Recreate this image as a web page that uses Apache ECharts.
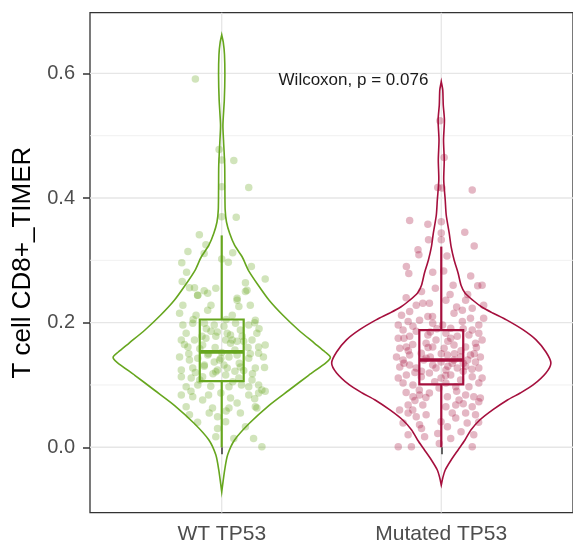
<!DOCTYPE html>
<html>
<head>
<meta charset="utf-8">
<script src="https://cdn.jsdelivr.net/npm/echarts@6/dist/echarts.min.js"></script>
<style>
  html, body { margin: 0; padding: 0; background: #ffffff; }
  #chart { width: 573px; height: 548px; }
</style>
</head>
<body>
<div id="chart"></div>
<script>
// ---- data ----
const groups = ['WT TP53', 'Mutated TP53'];
const yTicks = [0, 0.2, 0.4, 0.6];
const yMinorGrid = [0.1, 0.3, 0.5];
const pValueLabel = 'Wilcoxon, p = 0.076';
const pValuePos = [1.6, 0.589];

// violin outlines: value levels (top to bottom) and half-widths in group units
const wtViolinY = [0.6616, 0.650, 0.630, 0.597, 0.557, 0.517, 0.493, 0.453, 0.413, 0.381, 0.3615, 0.3434, 0.3242, 0.3049, 0.2840, 0.2600, 0.2359, 0.2118, 0.1878, 0.1669, 0.1525, 0.1445, 0.1364, 0.1155, 0.0915, 0.0674, 0.0385, 0.0117, -0.0122, -0.0363, -0.0716];
const wtViolinHalfWidth = [0, 0.007, 0.0126, 0.0144, 0.0117, 0.0054, 0.0081, 0.0135, 0.0144, 0.0157, 0.0216, 0.036, 0.0585, 0.094, 0.1215, 0.1664, 0.2159, 0.2789, 0.3509, 0.4229, 0.4723, 0.4948, 0.4768, 0.3959, 0.3059, 0.2159, 0.1260, 0.0585, 0.0270, 0.0135, 0];
const mutViolinY = [0.5866, 0.5734, 0.5493, 0.5252, 0.4929, 0.4610, 0.4289, 0.3968, 0.3727, 0.3439, 0.3214, 0.3005, 0.2797, 0.2600, 0.2476, 0.2359, 0.2251, 0.2155, 0.2044, 0.1883, 0.1723, 0.1529, 0.1353, 0.1193, 0.1000, 0.0871, 0.0759, 0.0599, 0.0437, 0.0277, 0.0117, -0.0043, -0.0204, -0.0365, -0.0493, -0.0605];
const mutViolinHalfWidth = [0, 0.0067, 0.009, 0.0144, 0.0103, 0.0135, 0.0112, 0.018, 0.0225, 0.036, 0.045, 0.0585, 0.0765, 0.09, 0.108, 0.144, 0.1844, 0.2339, 0.2969, 0.3734, 0.4318, 0.4768, 0.4993, 0.4768, 0.4183, 0.3599, 0.3014, 0.2339, 0.1754, 0.1350, 0.1080, 0.0765, 0.045, 0.018, 0.0067, 0];

// box statistics: [lower whisker, Q1, median, Q3, upper whisker]
const wtBox = [0.0, 0.106, 0.153, 0.205, 0.340];
const mutBox = [0.0, 0.101, 0.140, 0.188, 0.322];

// observations: [jitter offset, value]
const wtPoints = [
  [-0.12,0.591],[-0.012,0.478],[0.0,0.461],[0.055,0.460],[0.0,0.418],[0.123,0.417],[0.0,0.370],[0.066,0.369],
  [-0.102,0.341],[-0.072,0.325],[-0.154,0.314],[-0.08,0.311],[-0.182,0.296],[0.0,0.302],[0.03,0.297],[0.05,0.312],
  [0.135,0.290],[-0.16,0.281],[0.198,0.270],[-0.18,0.266],[-0.147,0.256],[-0.124,0.256],[-0.08,0.251],[-0.027,0.255],
  [0.108,0.264],[0.115,0.252],[-0.11,0.244],[0.07,0.239],
  [-0.109,0.244],[-0.064,0.247],[0.070,0.236],[0.108,0.250],[-0.177,0.228],[-0.049,0.228],[0.078,0.226],[0.130,0.228],
  [-0.192,0.215],[-0.117,0.212],[-0.064,0.220],[0.048,0.212],[0.153,0.204],
  [-0.177,0.196],[-0.132,0.199],[-0.079,0.199],[-0.034,0.196],[0.010,0.194],[0.063,0.199],[0.123,0.196],[0.150,0.200],
  [-0.162,0.183],[-0.049,0.186],[0.025,0.183],[0.085,0.188],[0.160,0.183],
  [-0.184,0.172],[-0.124,0.172],[-0.072,0.175],[-0.027,0.178],[0.018,0.172],[0.048,0.172],[0.093,0.178],[0.138,0.172],
  [0.198,0.164],[-0.154,0.161],[-0.087,0.164],[0.040,0.167],[0.168,0.161],
  [-0.192,0.145],[-0.147,0.140],[-0.109,0.143],[-0.064,0.148],[-0.034,0.137],[-0.004,0.143],[0.033,0.145],[0.070,0.148],
  [0.123,0.143],[0.168,0.151],[0.190,0.145],[-0.184,0.124],[-0.132,0.127],[-0.079,0.132],[-0.019,0.124],[0.025,0.127],
  [0.085,0.129],[0.153,0.127],[0.195,0.128],
  [-0.184,0.113],[-0.139,0.111],[-0.087,0.113],[-0.027,0.121],[0.018,0.116],[0.078,0.111],[0.138,0.108],[0.168,0.100],
  [-0.162,0.097],[-0.109,0.100],[0.033,0.097],[0.123,0.097],[0.183,0.092],
  [-0.184,0.084],[-0.132,0.081],[-0.087,0.076],[-0.004,0.087],[0.040,0.079],[0.070,0.071],[0.123,0.084],[0.168,0.087],
  [0.198,0.090],[-0.162,0.065],[-0.042,0.063],[0.033,0.063],[0.153,0.065],
  [-0.147,0.052],[-0.057,0.055],[-0.019,0.049],[0.085,0.055],[0.160,0.063],[-0.019,0.030],[0.018,0.041],[0.108,0.033],
  [-0.027,0.017],[0.055,0.014],[0.145,0.014],[0.183,0.001],
  [-0.07,0.190],[-0.02,0.185],[0.04,0.180],[0.10,0.170],[-0.10,0.158],[-0.03,0.160],[0.06,0.156],[0.12,0.160],
  [-0.06,0.150],[0.00,0.152],[0.08,0.135],[-0.08,0.130],[-0.04,0.118],[0.05,0.105],[0.10,0.123],[-0.12,0.120],
  [0.01,0.132],[-0.15,0.150],[0.14,0.118],[-0.05,0.098],
  [-0.13,0.205],[0.02,0.205],[0.17,0.190],[-0.09,0.178],[0.07,0.170],[-0.17,0.165],[0.13,0.150],[-0.01,0.140],
  [0.06,0.122],[-0.10,0.108],[0.09,0.100],[-0.14,0.090],[0.15,0.078],[-0.06,0.084],[0.02,0.058],[-0.11,0.040]
];
const mutPoints = [
  [-0.006,0.524],[0.013,0.465],[-0.016,0.417],[0.003,0.416],[0.141,0.413],[-0.144,0.364],[-0.061,0.358],[0.0,0.362],
  [0.0,0.344],[0.107,0.345],[-0.058,0.333],[0.0,0.333],[0.150,0.323],[-0.106,0.317],[-0.102,0.309],[0.026,0.307],
  [-0.159,0.290],[-0.148,0.279],[-0.039,0.281],[0.011,0.283],[0.134,0.275],[-0.027,0.255],[0.054,0.260],[0.166,0.259],
  [0.186,0.260],
  [-0.114,0.228],[-0.084,0.231],[-0.054,0.231],[0.021,0.236],[0.111,0.236],[0.193,0.228],[-0.181,0.212],[-0.144,0.218],
  [0.096,0.220],[0.141,0.223],
  [-0.196,0.196],[-0.151,0.202],[-0.099,0.204],[-0.061,0.210],[-0.039,0.199],[0.058,0.215],[0.096,0.202],[0.133,0.207],
  [0.171,0.196],[0.193,0.207],[-0.174,0.188],[-0.129,0.194],[0.006,0.196],[0.043,0.191],[0.141,0.188],
  [-0.196,0.175],[-0.144,0.178],[-0.114,0.186],[-0.061,0.180],[-0.024,0.172],[0.021,0.183],[0.043,0.175],[0.073,0.178],
  [0.126,0.180],[0.171,0.183],[0.186,0.172],[-0.189,0.159],[-0.159,0.161],[-0.069,0.167],[-0.039,0.161],[0.013,0.159],
  [0.058,0.164],[0.111,0.161],[0.156,0.167],
  [-0.204,0.145],[-0.174,0.140],[-0.144,0.148],[-0.091,0.151],[-0.069,0.143],[-0.039,0.132],[-0.001,0.137],[0.028,0.148],
  [0.058,0.140],[0.088,0.145],[0.133,0.148],[0.156,0.137],[0.178,0.145],[-0.189,0.129],[-0.144,0.132],[-0.114,0.127],
  [-0.024,0.127],[0.021,0.124],[0.073,0.127],[0.111,0.130],[0.171,0.127],
  [-0.196,0.111],[-0.159,0.116],[-0.091,0.113],[-0.054,0.119],[-0.001,0.111],[0.043,0.116],[0.088,0.108],[0.141,0.113],
  [0.186,0.111],[-0.174,0.103],[-0.129,0.100],[0.021,0.103],[0.066,0.097],[0.126,0.097],[0.171,0.103],
  [-0.129,0.081],[-0.099,0.084],[-0.054,0.087],[0.028,0.081],[0.081,0.076],[0.111,0.084],[0.148,0.081],[0.178,0.079],
  [-0.151,0.068],[-0.084,0.068],[0.021,0.065],[0.066,0.068],[0.141,0.065],[0.171,0.073],
  [-0.151,0.055],[-0.114,0.049],[-0.069,0.052],[0.066,0.047],[0.111,0.055],[0.156,0.052],[-0.174,0.039],[-0.099,0.036],
  [-0.001,0.041],[0.028,0.033],[0.118,0.039],
  [-0.151,0.020],[-0.076,0.017],[-0.016,0.022],[0.043,0.014],[0.148,0.020],[-0.196,0.001],[-0.136,0.001],[-0.009,0.006],
  [0.141,0.001],
  [-0.05,0.185],[0.03,0.170],[0.09,0.155],[-0.08,0.140],[0.00,0.150],[0.05,0.135],[-0.12,0.120],[0.10,0.122],
  [-0.03,0.105],[0.07,0.090],[-0.10,0.092],[0.12,0.140],[-0.06,0.160],[0.02,0.115],[-0.15,0.155],[0.15,0.150],
  [0.04,0.245],[-0.09,0.250],[0.12,0.245],[-0.16,0.240],
  [-0.17,0.175],[0.10,0.190],[-0.02,0.190],[0.06,0.150],[-0.13,0.165],[0.16,0.160],[-0.05,0.145],[0.03,0.130],
  [-0.17,0.135],[0.10,0.135],[-0.09,0.122],[0.14,0.125],[-0.01,0.095],[-0.16,0.088],[-0.12,0.075],[-0.07,0.080],
  [0.10,0.070],[-0.19,0.060],[-0.13,0.060],[0.05,0.055],[-0.09,0.030],[0.09,0.025],[0.17,0.040],[-0.04,0.210],
  [0.07,0.225]
];

// ---- styling ----
const FONT = "'Liberation Sans', Arial, sans-serif";
const groupColors = ['#66A61E', '#A50F3D'];
const pointOpacity = 0.3;
const boxWidth = 0.2;

const chart = echarts.init(document.getElementById('chart'), null, { renderer: 'canvas' });

function gridLineSeries() {
  const rows = [];
  yTicks.forEach(v => rows.push(['h', v, 'major']));
  yMinorGrid.forEach(v => rows.push(['h', v, 'minor']));
  groups.forEach((g, i) => rows.push(['v', i + 1, 'major']));
  return {
    type: 'custom', silent: true, z: 0, clip: true,
    data: rows.map((r, i) => [i]),
    renderItem: (params, api) => {
      const r = rows[params.dataIndex];
      const cs = params.coordSys;
      const style = { stroke: r[2] === 'major' ? '#E6E6E6' : '#EEEEEE', lineWidth: r[2] === 'major' ? 1.3 : 0.9 };
      if (r[0] === 'h') {
        const y = api.coord([1, r[1]])[1];
        return { type: 'line', shape: { x1: cs.x, y1: y, x2: cs.x + cs.width, y2: y }, style };
      }
      const x = api.coord([r[1], 0])[0];
      return { type: 'line', shape: { x1: x, y1: cs.y, x2: x, y2: cs.y + cs.height }, style };
    },
    encode: { x: -1, y: -1 }
  };
}

function violinSeries(gi, ys, hws) {
  const cx = gi + 1;
  return {
    type: 'custom', silent: true, z: 2,
    data: [[cx, ys[0]]],
    renderItem: (params, api) => {
      const pts = [];
      for (let i = 0; i < ys.length; i++) pts.push(api.coord([cx + hws[i], ys[i]]));
      for (let i = ys.length - 1; i >= 0; i--) pts.push(api.coord([cx - hws[i], ys[i]]));
      return {
        type: 'polygon',
        shape: { points: pts, smooth: 0.25 },
        style: { fill: 'none', stroke: groupColors[gi], lineWidth: 1.6 }
      };
    },
    encode: { x: 0, y: 1 }
  };
}

function pointSeries(gi, pts) {
  return {
    type: 'scatter', silent: true, z: 3,
    symbol: 'circle', symbolSize: 7.5,
    itemStyle: { color: groupColors[gi], opacity: pointOpacity },
    data: pts.map(p => [gi + 1 + p[0], p[1]])
  };
}

function boxSeries(gi, s) {
  const cx = gi + 1;
  return {
    type: 'custom', silent: true, z: 4,
    data: [[cx, s[0], s[1], s[2], s[3], s[4]]],
    renderItem: (params, api) => {
      const c = groupColors[gi];
      const lo = api.coord([cx, s[0]]);
      const q1 = api.coord([cx - boxWidth / 2, s[1]]);
      const q3 = api.coord([cx + boxWidth / 2, s[3]]);
      const hi = api.coord([cx, s[4]]);
      const medL = api.coord([cx - boxWidth / 2, s[2]]);
      const medR = api.coord([cx + boxWidth / 2, s[2]]);
      const lw = 2.2;
      return {
        type: 'group',
        children: [
          { type: 'line', shape: { x1: hi[0], y1: hi[1], x2: hi[0], y2: q3[1] }, style: { stroke: c, lineWidth: lw } },
          { type: 'line', shape: { x1: lo[0], y1: lo[1], x2: lo[0], y2: q1[1] }, style: { stroke: c, lineWidth: lw } },
          { type: 'rect', shape: { x: q1[0], y: q3[1], width: q3[0] - q1[0], height: q1[1] - q3[1] },
            style: { fill: 'none', stroke: c, lineWidth: lw } },
          { type: 'line', shape: { x1: medL[0], y1: medL[1], x2: medR[0], y2: medR[1] }, style: { stroke: c, lineWidth: 3.6 } }
        ]
      };
    },
    encode: { x: 0, y: 1 }
  };
}

const labelSeries = {
  type: 'custom', silent: true, z: 5, clip: false,
  data: [pValuePos],
  renderItem: (params, api) => {
    const p = api.coord([api.value(0), api.value(1)]);
    return {
      type: 'text', x: p[0], y: p[1],
      style: { text: pValueLabel, fill: '#1A1A1A', font: '17px ' + FONT, align: 'center', verticalAlign: 'middle' }
    };
  },
  encode: { x: 0, y: 1 }
};

const option = {
  animation: false,
  backgroundColor: '#ffffff',
  grid: {
    left: 90, top: 12.6, right: -6, bottom: 35.3,
    show: true, borderColor: '#333333', borderWidth: 1.3, backgroundColor: 'transparent'
  },
  xAxis: {
    type: 'value', min: 0.4, max: 2.6,
    axisLine: { show: false },
    splitLine: { show: false },
    axisTick: { show: true, customValues: [1, 2], length: 7, lineStyle: { color: '#333333', width: 1.5 } },
    axisLabel: {
      customValues: [1, 2], margin: 11,
      formatter: v => groups[Math.round(v) - 1] || '',
      color: '#4D4D4D', fontSize: 21, fontFamily: FONT
    }
  },
  yAxis: {
    type: 'value', min: -0.105, max: 0.6975,
    name: 'T cell CD8+_TIMER', nameLocation: 'middle', nameGap: 54,
    nameTextStyle: { color: '#000000', fontSize: 26, fontFamily: FONT },
    axisLine: { show: false },
    splitLine: { show: false },
    axisTick: { show: true, customValues: yTicks, length: 7, lineStyle: { color: '#333333', width: 1.5 } },
    axisLabel: {
      customValues: yTicks, margin: 15,
      formatter: v => v.toFixed(1),
      color: '#4D4D4D', fontSize: 20, fontFamily: FONT
    }
  },
  series: [
    gridLineSeries(),
    violinSeries(0, wtViolinY, wtViolinHalfWidth),
    violinSeries(1, mutViolinY, mutViolinHalfWidth),
    pointSeries(0, wtPoints),
    pointSeries(1, mutPoints),
    boxSeries(0, wtBox),
    boxSeries(1, mutBox),
    labelSeries
  ]
};

chart.setOption(option);
</script>
</body>
</html>
